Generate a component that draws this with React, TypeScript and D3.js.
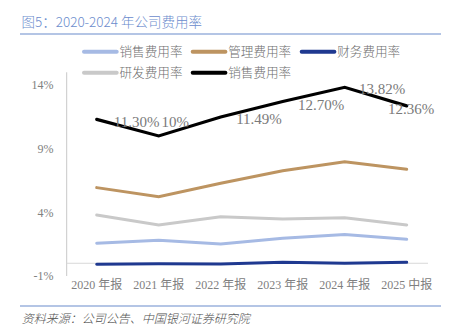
import React from "react";
import * as d3 from "d3";

const categories = ["2020 年报", "2021 年报", "2022 年报", "2023 年报", "2024 年报", "2025 中报"];
const salesLight = [1.57, 1.81, 1.52, 1.96, 2.25, 1.88];
const admin = [5.94, 5.23, 6.28, 7.27, 7.98, 7.38];
const finance = [-0.08, -0.03, -0.05, 0.08, 0.0, 0.08];
const rnd = [3.79, 3.01, 3.66, 3.48, 3.58, 3.01];
const salesBlack = [11.3, 10.0, 11.49, 12.7, 13.82, 12.36];
const blackLabels = ["11.30%", "10%", "11.49%", "12.70%", "13.82%", "12.36%"];
const yTicks = [-1, 4, 9, 14];
const yTickLabels = ["-1%", "4%", "9%", "14%"];

const seriesNames = ["销售费用率", "管理费用率", "财务费用率", "研发费用率", "销售费用率"];
const seriesColors = ["#a6bae4", "#bd9461", "#1f3990", "#c9c9c9", "#000000"];
const seriesData = [salesLight, admin, finance, rnd, salesBlack];

// label placement offsets (layout, px) relative to point
const labelDx = [40, 16.5, 38.3, 38.3, 37.3, 4.3];
const labelDy = [7.5, -9, 7, 8.4, 6.6, 8.1];

export default function App() {
  const x = d3.scalePoint<string>().domain(categories).range([96.7, 406.7]);
  const y = d3.scaleLinear().domain([-1, 14]).range([276, 85]);
  const line = d3
    .line<number>()
    .x((_, i) => x(categories[i]) as number)
    .y((d) => y(d));

  const legendItems = [
    { lx: 84, ly: 51.7 },
    { lx: 192.7, ly: 51.7 },
    { lx: 301.7, ly: 51.7 },
    { lx: 84, ly: 72.7 },
    { lx: 192.7, ly: 72.7 },
  ];

  const serif = "'Liberation Serif', 'Noto Sans CJK SC', serif";
  const cjk = "'Noto Sans CJK SC', sans-serif";

  return (
    <svg
      width={453}
      height={335}
      style={{ position: "absolute", left: 0, top: 0, background: "#fff" }}
    >
      <text x={21.5} y={27} fontFamily={cjk} fontSize={13.5} fontWeight={300} fill="#6b8ccd">
        图5：2020-2024 年公司费用率
      </text>
      <line x1={20} x2={441} y1={34} y2={34} stroke="#6a8bcc" strokeWidth={1.2} />

      {legendItems.map((it, i) => (
        <g key={i}>
          <line
            x1={it.lx}
            x2={it.lx + 32.7}
            y1={it.ly}
            y2={it.ly}
            stroke={seriesColors[i]}
            strokeWidth={4}
            strokeLinecap="round"
          />
          <text
            x={it.lx + 35.5}
            y={it.ly + 4.5}
            fontFamily={cjk}
            fontSize={12.6}
            fontWeight={300}
            fill="#6e6e6e"
          >
            {seriesNames[i]}
          </text>
        </g>
      ))}

      {/* axes */}
      <line x1={66.7} x2={66.7} y1={y(15)} y2={y(-1)} stroke="#c8c8c8" strokeWidth={1} />
      <line x1={66.7} x2={428} y1={y(0)} y2={y(0)} stroke="#d9d9d9" strokeWidth={1} />

      {yTicks.map((t, i) => (
        <text
          key={t}
          x={53.5}
          y={y(t) + 4.3}
          textAnchor="end"
          fontFamily={serif}
          fontSize={12}
          fill="#808080"
        >
          {yTickLabels[i]}
        </text>
      ))}

      {categories.map((c) => (
        <text
          key={c}
          x={x(c) as number}
          y={289}
          textAnchor="middle"
          fontFamily={serif}
          fontSize={12}
          fill="#808080"
        >
          {c}
        </text>
      ))}

      {seriesData.map((d, i) => (
        <path
          key={i}
          d={line(d) || ""}
          fill="none"
          stroke={seriesColors[i]}
          strokeWidth={i === 4 ? 3.2 : 3}
          strokeLinejoin="miter"
          strokeLinecap="round"
        />
      ))}

      {salesBlack.map((v, i) => (
        <text
          key={i}
          x={(x(categories[i]) as number) + labelDx[i]}
          y={y(v) + labelDy[i]}
          textAnchor="middle"
          fontFamily={serif}
          fontSize={15}
          fill="#7a7a7a"
        >
          {blackLabels[i]}
        </text>
      ))}

      <line x1={20} x2={441} y1={306} y2={306} stroke="#6a8bcc" strokeWidth={1.2} />
      <text
        x={21.7}
        y={322.5}
        fontFamily={cjk}
        fontSize={12}
        fontWeight={300}
        fontStyle="italic"
        fill="#505050"
      >
        资料来源：公司公告、中国银河证券研究院
      </text>
    </svg>
  );
}
